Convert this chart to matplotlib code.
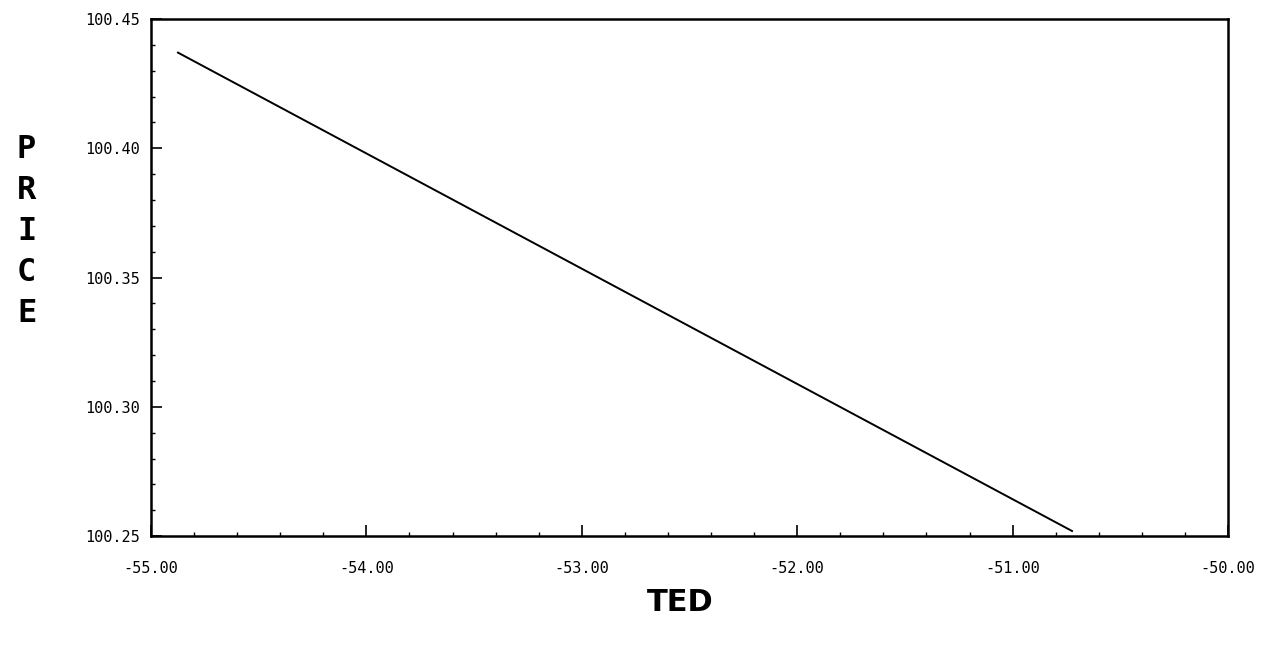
import matplotlib
matplotlib.use("Agg")
import matplotlib.pyplot as plt
from matplotlib.ticker import MultipleLocator, FormatStrFormatter

ted = [-54.875, -50.724]
price = [100.437, 100.252]

x_ticks = [-55.0, -54.0, -53.0, -52.0, -51.0, -50.0]
y_ticks = [100.25, 100.30, 100.35, 100.40, 100.45]

fig = plt.figure(figsize=(12.67, 6.46), dpi=100)
ax = fig.add_axes([0.1192, 0.170, 0.8500, 0.8006])
ax.plot(ted, price, color="black", linewidth=1.4)
ax.set_xlim(-55, -50)
ax.set_ylim(100.25, 100.45)
ax.set_xticks(x_ticks)
ax.set_yticks(y_ticks)
ax.xaxis.set_major_formatter(FormatStrFormatter("%.2f"))
ax.yaxis.set_major_formatter(FormatStrFormatter("%.2f"))
ax.xaxis.set_minor_locator(MultipleLocator(0.2))
ax.yaxis.set_minor_locator(MultipleLocator(0.01))
for s in ax.spines.values():
    s.set_linewidth(1.8)
ax.tick_params(which="major", direction="in", length=8, width=1.2,
               labelsize=11, pad=18)
ax.tick_params(which="minor", direction="in", length=3, width=1.0)
ax.tick_params(axis="y", pad=8)
for lab in ax.get_xticklabels() + ax.get_yticklabels():
    lab.set_family("DejaVu Sans Mono")

fig.text(0.537, 0.068, "TED", ha="center", va="center", fontsize=22,
         fontweight="bold", family="DejaVu Sans")
fig.text(0.021, 0.642, "P\nR\nI\nC\nE", ha="center", va="center",
         fontsize=23, fontweight="bold", family="DejaVu Sans Mono",
         linespacing=1.42)

fig.savefig("out.png", dpi=100)
